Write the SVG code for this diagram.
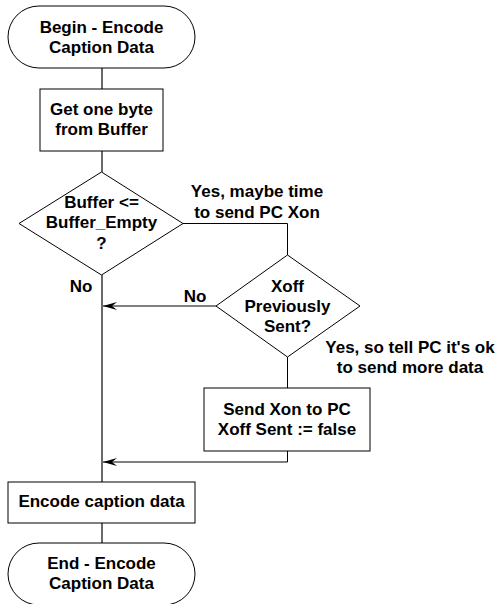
<svg xmlns="http://www.w3.org/2000/svg" width="497" height="604" viewBox="0 0 497 604">
<style>
.s{fill:#fff;stroke:#000;stroke-width:1}
.t{font-family:"Liberation Sans",Arial,sans-serif;font-weight:bold;font-size:17px;fill:#000;text-anchor:middle}
.c{fill:none;stroke:#000;stroke-width:1}
.m{fill:none;stroke:#444;stroke-width:1.6}
</style>
<defs>
<marker id="ah" viewBox="0 0 14 8" refX="14" refY="4" markerWidth="14" markerHeight="8" markerUnits="userSpaceOnUse" orient="auto">
<path d="M14,4 L0,0 L5,4 L0,8 Z" fill="#000"/>
</marker>
</defs>
<g id="connectors">
<line class="m" x1="102" y1="68" x2="102" y2="89"/>
<line class="m" x1="102" y1="151" x2="102" y2="172"/>
<line class="m" x1="102" y1="275" x2="102" y2="482"/>
<line class="m" x1="102" y1="523" x2="102" y2="543"/>
<polyline class="c" points="183,223.5 287.5,223.5 287.5,255"/>
<line class="c" x1="216" y1="306" x2="103" y2="306" marker-end="url(#ah)"/>
<line class="c" x1="287.5" y1="357" x2="287.5" y2="388"/>
<polyline class="c" points="287.5,451 287.5,462 103,462" marker-end="url(#ah)"/>
</g>
<g id="begin">
<rect class="s" x="8" y="6" width="187" height="62" rx="31" ry="31"/>
<text class="t" x="101.5" y="33">Begin - Encode</text>
<text class="t" x="101.5" y="53">Caption Data</text>
</g>
<g id="get-byte">
<rect class="s" x="40" y="89" width="123" height="62"/>
<text class="t" x="101.5" y="115">Get one byte</text>
<text class="t" x="101.5" y="135">from Buffer</text>
</g>
<g id="buffer-check">
<polygon class="s" points="101.5,172 183,223.5 101.5,275 19,223.5"/>
<text class="t" x="101.5" y="208">Buffer &lt;=</text>
<text class="t" x="101.5" y="228">Buffer_Empty</text>
<text class="t" x="101.5" y="249">?</text>
</g>
<g id="xoff-check">
<polygon class="s" points="287.5,255 360,306 287.5,357 216,306"/>
<text class="t" x="287.5" y="292">Xoff</text>
<text class="t" x="287.5" y="312">Previously</text>
<text class="t" x="287.5" y="332">Sent?</text>
</g>
<g id="send-xon">
<rect class="s" x="204" y="388" width="166" height="63"/>
<text class="t" x="287" y="415">Send Xon to PC</text>
<text class="t" x="287" y="435">Xoff Sent := false</text>
</g>
<g id="encode">
<rect class="s" x="8" y="482" width="187" height="41"/>
<text class="t" x="101.5" y="507">Encode caption data</text>
</g>
<g id="end">
<rect class="s" x="8" y="543" width="187" height="62" rx="31" ry="31"/>
<text class="t" x="101.5" y="569">End - Encode</text>
<text class="t" x="101.5" y="589">Caption Data</text>
</g>
<g id="labels">
<text class="t" x="81" y="292">No</text>
<text class="t" x="195" y="302">No</text>
<text class="t" x="257" y="197">Yes, maybe time</text>
<text class="t" x="257" y="218">to send PC Xon</text>
<text class="t" x="410" y="353">Yes, so tell PC it's ok</text>
<text class="t" x="410" y="373">to send more data</text>
</g>
</svg>
